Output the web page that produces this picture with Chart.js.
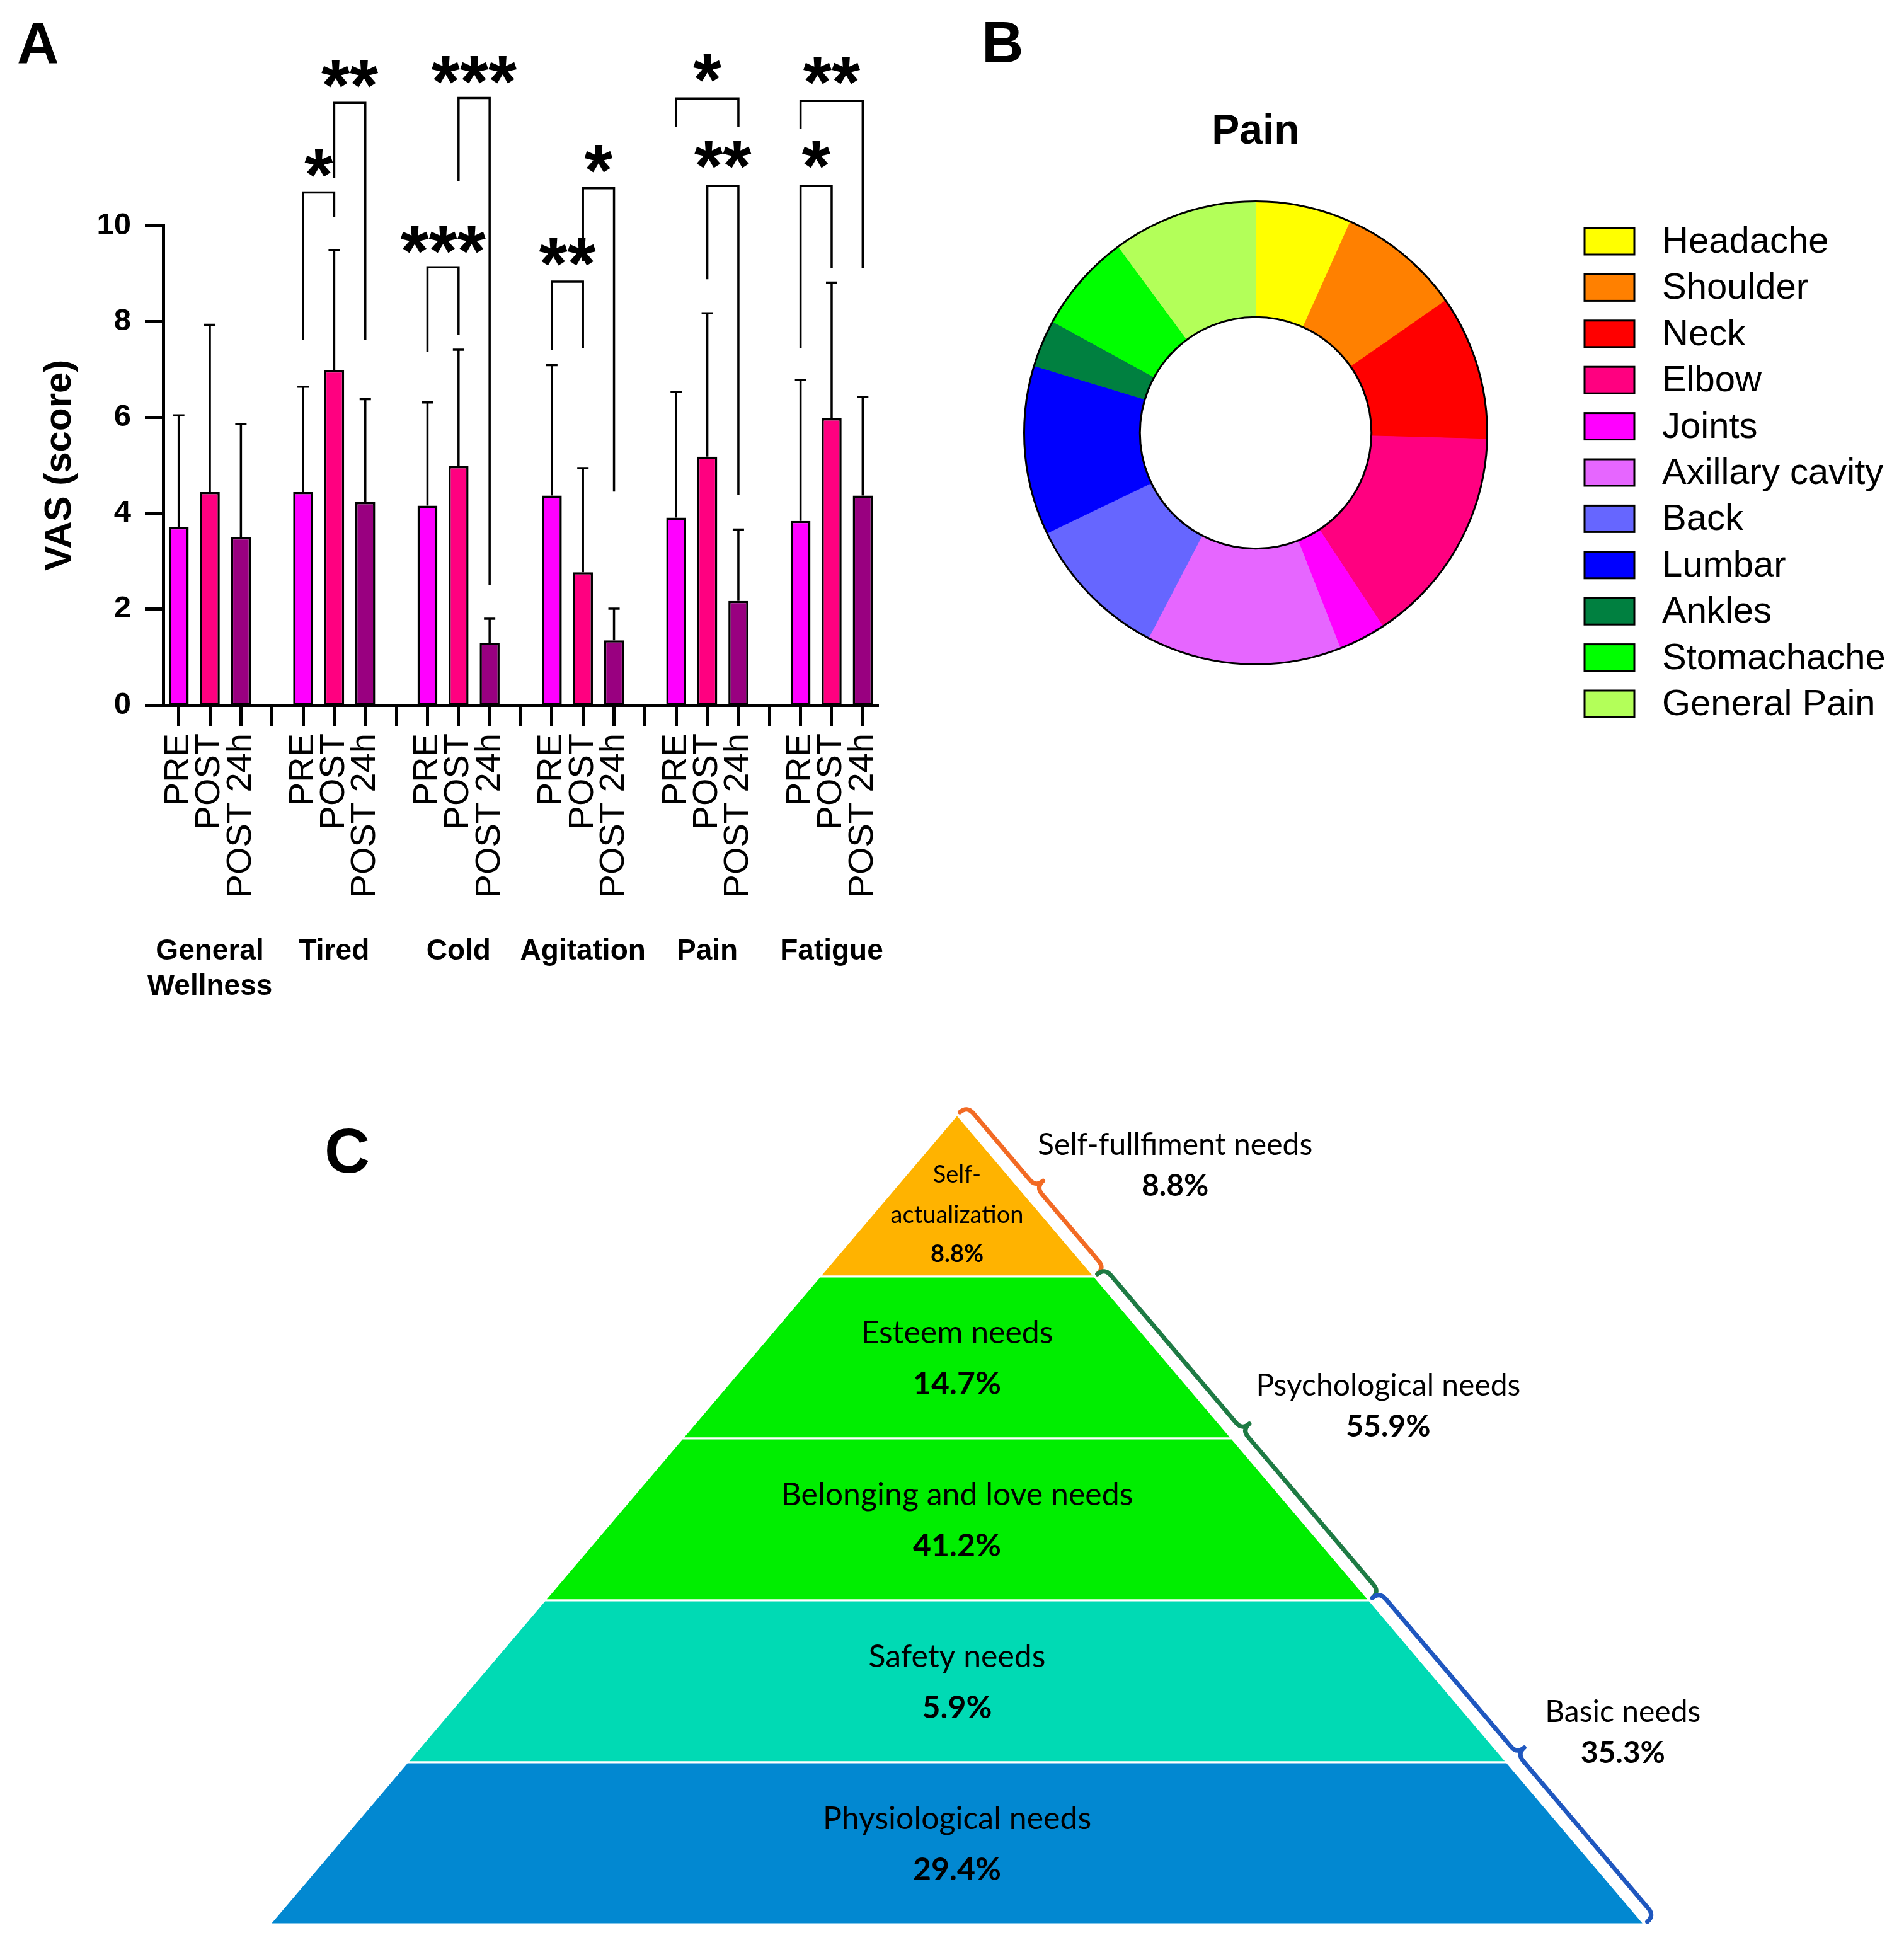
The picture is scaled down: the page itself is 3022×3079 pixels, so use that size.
<!DOCTYPE html>
<html><head><meta charset="utf-8">
<script src="https://cdn.jsdelivr.net/npm/chart.js@4.4.1/dist/chart.umd.min.js"></script>
<style>
html,body{margin:0;padding:0;background:#fff;}
body{width:3022px;height:3079px;position:relative;overflow:hidden;}
canvas{position:absolute;}
#cA{left:0;top:0;width:1500px;height:1650px;}
#cB{left:1500px;top:0;width:1522px;height:1200px;}
#cC{left:0;top:1650px;width:3022px;height:1429px;}
</style></head><body>
<canvas id="cA" width="1500" height="1650"></canvas>
<canvas id="cB" width="1522" height="1200"></canvas>
<canvas id="cC" width="3022" height="1429"></canvas>
<script>
// ---------------- DATA ----------------
// Panel A
const groups = ['General Wellness', 'Tired', 'Cold', 'Agitation', 'Pain', 'Fatigue'];
const timepoints = ['PRE', 'POST', 'POST 24h'];
const meanPre  = [3.71, 4.44, 4.16, 4.37, 3.91, 3.84];
const meanPost = [4.44, 6.98, 4.98, 2.77, 5.18, 5.98];
const mean24h  = [3.50, 4.23, 1.30, 1.35, 2.17, 4.37];
const sdPre  = [2.33, 2.20, 2.15, 2.72, 2.62, 2.94];
const sdPost = [3.49, 2.51, 2.43, 2.17, 2.99, 2.83];
const sd24h  = [2.36, 2.15, 0.50, 0.66, 1.49, 2.06];
const yTicksA = [0, 2, 4, 6, 8, 10];
// significance brackets (group, from timepoint, to timepoint, bracket top, left leg end, right leg end, label, label centre)
const sigGroup    = [1, 1, 2, 2, 3, 3, 4, 4, 5, 5];
const sigFrom     = [0, 1, 0, 1, 0, 1, 0, 1, 0, 0];
const sigTo       = [1, 2, 1, 2, 1, 2, 2, 2, 1, 2];
const sigTop      = [10.69, 12.56, 9.13, 12.66, 8.83, 10.78, 12.65, 10.83, 10.83, 12.60];
const sigLeftEnd  = [7.61, 11.00, 7.37, 10.93, 7.41, 9.25, 12.06, 8.88, 7.45, 12.02];
const sigRightEnd = [10.17, 7.61, 7.72, 2.50, 7.45, 4.45, 12.06, 4.39, 9.12, 9.12];
const sigLabel    = ['*', '**', '***', '***', '**', '*', '*', '**', '*', '**'];
const sigLabelAt  = [11.38, 13.25, 9.79, 13.32, 9.53, 11.47, 13.36, 11.56, 11.56, 13.31];

// Panel B
const painSites  = ['Headache', 'Shoulder', 'Neck', 'Elbow', 'Joints', 'Axillary cavity', 'Back', 'Lumbar', 'Ankles', 'Stomachache', 'General Pain'];
const painShare  = [6.7, 8.6, 10.1, 15.3, 3.3, 13.6, 10.2, 11.8, 3.3, 6.9, 10.1];
const painColors = ['#FFFF00', '#FF8000', '#FF0000', '#FF0080', '#FF00FF', '#E666FF', '#6666FF', '#0000FF', '#008040', '#00FF00', '#B3FF59'];

// Panel C (top to bottom)
const needLevels = ['Self-\nactualization', 'Esteem needs', 'Belonging and love needs', 'Safety needs', 'Physiological needs'];
const needShare  = [8.8, 14.7, 41.2, 5.9, 29.4];
const needColors = ['#FFB300', '#00EE00', '#00EE00', '#00DAB4', '#0288D1'];
const needGroups = ['Self-fullfiment needs', 'Psychological needs', 'Basic needs'];
const needGroupShare = [8.8, 55.9, 35.3];
const needGroupFirst = [0, 1, 3];
const needGroupLast  = [0, 2, 4];
const needGroupColors = ['#F26A24', '#1E7B44', '#1F57BF'];

// ---------------- COMMON ----------------
const SANS = '"Liberation Sans", Arial, sans-serif';
const CAL = 'Lato, "Open Sans", sans-serif';
Chart.defaults.font.family = SANS;
Chart.defaults.color = '#000';
const fmtPct = v => v.toFixed(1) + '%';

function panelLetter(letter, x, y, size) {
  return { id: 'letter' + letter, afterDraw(chart) {
    const c = chart.ctx; c.save(); c.fillStyle = '#000';
    c.font = 'bold ' + size + 'px ' + SANS; c.textAlign = 'left'; c.textBaseline = 'alphabetic';
    c.fillText(letter, x, y); c.restore();
  }};
}

// ---------------- PANEL A ----------------
const tpColors = ['#FF00FF', '#FF0080', '#990080'];
const xLabels = [], barValues = [], barErrors = [], barColors = [];
groups.forEach((g, gi) => {
  const m = [meanPre[gi], meanPost[gi], mean24h[gi]];
  const s = [sdPre[gi], sdPost[gi], sd24h[gi]];
  timepoints.forEach((t, ti) => { xLabels.push(t); barValues.push(m[ti]); barErrors.push(s[ti]); barColors.push(tpColors[ti]); });
  if (gi < groups.length - 1) { xLabels.push(''); barValues.push(null); barErrors.push(null); barColors.push('rgba(0,0,0,0)'); }
});
const slotOf = (g, t) => g * (timepoints.length + 1) + t;

const errorBars = { id: 'errorBars', afterDatasetsDraw(chart) {
  const c = chart.ctx, ys = chart.scales.y, meta = chart.getDatasetMeta(0);
  c.save(); c.strokeStyle = '#000'; c.lineWidth = 3.5; c.lineCap = 'butt';
  meta.data.forEach((bar, i) => {
    if (barValues[i] == null) return;
    const yb = ys.getPixelForValue(barValues[i]);
    const yt = ys.getPixelForValue(barValues[i] + barErrors[i]);
    c.beginPath(); c.moveTo(bar.x, yb); c.lineTo(bar.x, yt);
    c.moveTo(bar.x - 9, yt); c.lineTo(bar.x + 9, yt); c.stroke();
  });
  c.restore();
}};

const brackets = { id: 'brackets', afterDraw(chart) {
  const c = chart.ctx, xs = chart.scales.x, ys = chart.scales.y;
  const fs = 116;
  c.save(); c.strokeStyle = '#000'; c.lineWidth = 3.5; c.lineJoin = 'miter';
  c.fillStyle = '#000'; c.font = 'bold ' + fs + 'px ' + SANS; c.textAlign = 'center'; c.textBaseline = 'alphabetic';
  sigGroup.forEach((g, k) => {
    const xl = xs.getPixelForValue(slotOf(g, sigFrom[k]));
    const xr = xs.getPixelForValue(slotOf(g, sigTo[k]));
    const yt = ys.getPixelForValue(sigTop[k]);
    c.beginPath();
    c.moveTo(xl, ys.getPixelForValue(sigLeftEnd[k])); c.lineTo(xl, yt); c.lineTo(xr, yt);
    c.lineTo(xr, ys.getPixelForValue(sigRightEnd[k])); c.stroke();
    c.fillText(sigLabel[k], (xl + xr) / 2, ys.getPixelForValue(sigLabelAt[k]) + 0.56 * fs);
  });
  c.restore();
}};

const groupLabels = { id: 'groupLabels', afterDraw(chart) {
  const c = chart.ctx, xs = chart.scales.x, base = chart.chartArea.bottom + 391;
  c.save(); c.fillStyle = '#000'; c.font = 'bold 46px ' + SANS; c.textAlign = 'center'; c.textBaseline = 'middle';
  groups.forEach((g, gi) => {
    const x = xs.getPixelForValue(slotOf(gi, 1));
    g.split(' ').forEach((line, li) => c.fillText(line, x, base + li * 56));
  });
  c.restore();
}};

new Chart(document.getElementById('cA'), {
  type: 'bar',
  data: { labels: xLabels, datasets: [{ data: barValues, backgroundColor: barColors, borderColor: '#000', borderWidth: 3.5, borderSkipped: false, barPercentage: 0.64, categoryPercentage: 1 }] },
  options: {
    responsive: false, animation: false, devicePixelRatio: 1,
    layout: { padding: { left: 0, right: 106, top: 358, bottom: 0 }, autoPadding: false },
    plugins: { legend: { display: false }, tooltip: { enabled: false } },
    scales: {
      x: {
        offset: true,
        grid: { offset: false, drawOnChartArea: false, tickLength: 33, tickWidth: 5, tickColor: '#000' },
        border: { color: '#000', width: 5 },
        ticks: { minRotation: 90, maxRotation: 90, autoSkip: false, color: '#000', font: { size: 56 }, padding: 12 },
        afterFit: s => { s.height = 531; }
      },
      y: {
        min: 0, max: 10,
        afterBuildTicks: s => { s.ticks = yTicksA.map(v => ({ value: v })); },
        ticks: { color: '#000', font: { size: 49, weight: 'bold' }, padding: 22 },
        grid: { drawOnChartArea: false, tickLength: 29, tickWidth: 5, tickColor: '#000' },
        border: { color: '#000', width: 5 },
        title: { display: true, text: 'VAS (score)', color: '#000', font: { size: 60, weight: 'bold' }, padding: { top: 59, bottom: 0 } },
        afterFit: s => { s.width = 259; }
      }
    }
  },
  plugins: [errorBars, brackets, groupLabels, panelLetter('A', 27, 100, 92)]
});

// ---------------- PANEL B ----------------
const ringOutline = { id: 'ringOutline', afterDatasetsDraw(chart) {
  const arc = chart.getDatasetMeta(0).data[0]; if (!arc) return;
  const c = chart.ctx; c.save(); c.strokeStyle = '#000'; c.lineWidth = 3;
  c.beginPath(); c.arc(arc.x, arc.y, arc.outerRadius, 0, Math.PI * 2); c.stroke();
  c.beginPath(); c.arc(arc.x, arc.y, arc.innerRadius, 0, Math.PI * 2); c.stroke();
  c.restore();
}};
const painTitle = { id: 'painTitle', afterDraw(chart) {
  const arc = chart.getDatasetMeta(0).data[0]; const c = chart.ctx;
  c.save(); c.fillStyle = '#000'; c.font = 'bold 66px ' + SANS; c.textAlign = 'center'; c.textBaseline = 'alphabetic';
  c.fillText('Pain', arc.x, 228); c.restore();
}};
const painLegend = { id: 'painLegend', afterDraw(chart) {
  const c = chart.ctx; const bx = 1015, top = 362, pitch = 73.4, bw = 79, bh = 42;
  c.save(); c.font = '58px ' + SANS; c.textAlign = 'left'; c.textBaseline = 'middle';
  chart.data.labels.forEach((lab, i) => {
    const y = top + i * pitch;
    c.fillStyle = chart.data.datasets[0].backgroundColor[i]; c.fillRect(bx, y, bw, bh);
    c.strokeStyle = '#000'; c.lineWidth = 3; c.strokeRect(bx, y, bw, bh);
    c.fillStyle = '#000'; c.fillText(lab, bx + 123, y + bh / 2 + 2);
  });
  c.restore();
}};
new Chart(document.getElementById('cB'), {
  type: 'doughnut',
  data: { labels: painSites, datasets: [{ data: painShare, backgroundColor: painColors, borderColor: painColors, borderWidth: 1, hoverOffset: 0 }] },
  options: {
    responsive: false, animation: false, devicePixelRatio: 1, cutout: '50%',
    layout: { padding: { left: 125, top: 319, right: 661, bottom: 145 } },
    plugins: { legend: { display: false }, tooltip: { enabled: false } }
  },
  plugins: [ringOutline, painTitle, painLegend, panelLetter('B', 58, 99, 92)]
});

// ---------------- PANEL C ----------------
const nLev = needLevels.length;
const halfW = y => 1 - y / nLev;
const levelDatasets = needLevels.map((name, t) => {
  const yb = nLev - 1 - t, yt = nLev - t;
  return { label: name, data: [{ x: -halfW(yb), y: yb }, { x: halfW(yb), y: yb }, { x: halfW(yt), y: yt }, { x: -halfW(yt), y: yt }],
           pointRadius: 0, showLine: false, backgroundColor: needColors[t] };
});
const pyramidFill = { id: 'pyramidFill', beforeDatasetsDraw(chart) {
  const c = chart.ctx; c.save();
  chart.data.datasets.forEach((ds, i) => {
    const pts = chart.getDatasetMeta(i).data;
    c.beginPath(); pts.forEach((p, j) => j ? c.lineTo(p.x, p.y) : c.moveTo(p.x, p.y)); c.closePath();
    c.fillStyle = ds.backgroundColor; c.fill();
    c.strokeStyle = '#fff'; c.lineWidth = 3; c.stroke();
  });
  c.restore();
}};
function drawBrace(c, ax, ay, bx, by, r) {
  const dx = bx - ax, dy = by - ay, L = Math.hypot(dx, dy), tx = dx / L, ty = dy / L, nx = ty, ny = -tx;
  const P = (s, h) => [ax + tx * s + nx * h, ay + ty * s + ny * h];
  const m = L / 2;
  c.beginPath();
  c.moveTo(...P(0, 0));
  c.quadraticCurveTo(...P(0, r), ...P(r, r));
  c.lineTo(...P(m - r, r));
  c.quadraticCurveTo(...P(m, r), ...P(m, 2 * r));
  c.quadraticCurveTo(...P(m, r), ...P(m + r, r));
  c.lineTo(...P(L - r, r));
  c.quadraticCurveTo(...P(L, r), ...P(L, 0));
  c.stroke();
}
const pyramidText = { id: 'pyramidText', afterDraw(chart) {
  const c = chart.ctx, xs = chart.scales.x, ys = chart.scales.y;
  const cx = xs.getPixelForValue(0);
  c.save(); c.fillStyle = '#000'; c.textAlign = 'center'; c.textBaseline = 'middle';
  needLevels.forEach((name, t) => {
    const cy = ys.getPixelForValue(nLev - t - 0.5);
    const lines = name.split('\n');
    if (lines.length > 1) {
      c.font = '38px ' + CAL; c.fillText(lines[0], cx, cy - 33); c.fillText(lines[1], cx, cy + 31);
      c.font = 'bold 38px ' + CAL; c.fillText(fmtPct(needShare[t]), cx, cy + 93);
    } else {
      c.font = '50px ' + CAL; c.fillText(name, cx, cy - 39);
      c.font = 'bold 50px ' + CAL; c.fillText(fmtPct(needShare[t]), cx, cy + 42);
    }
  });
  // braces along the right edge
  const edge = (y, off) => {
    const x0 = xs.getPixelForValue(halfW(y)), y0 = ys.getPixelForValue(y);
    const ex = xs.getPixelForValue(1) - xs.getPixelForValue(0), ey = ys.getPixelForValue(0) - ys.getPixelForValue(nLev);
    const L = Math.hypot(ex, ey);
    return [x0 + (ey / L) * off, y0 - (ex / L) * off];
  };
  const labelOff = [[237, -80], [248, -83], [184, -79]];
  needGroups.forEach((g, k) => {
    const yTop = nLev - needGroupFirst[k], yBot = nLev - 1 - needGroupLast[k];
    const a = edge(yTop, 6), b = edge(yBot, 6);
    c.strokeStyle = needGroupColors[k]; c.lineWidth = 7; c.lineJoin = 'round'; c.lineCap = 'round';
    drawBrace(c, a[0], a[1], b[0], b[1], 15);
    const mid = edge((yTop + yBot) / 2, 0);
    const lx = mid[0] + labelOff[k][0], ly = mid[1] + labelOff[k][1];
    c.fillStyle = '#000';
    c.font = '48px ' + CAL; c.fillText(g, lx, ly);
    c.font = 'bold 48px ' + CAL; c.fillText(fmtPct(needGroupShare[k]), lx, ly + 65);
  });
  c.restore();
}};
new Chart(document.getElementById('cC'), {
  type: 'scatter',
  data: { datasets: levelDatasets },
  options: {
    responsive: false, animation: false, devicePixelRatio: 1,
    layout: { padding: { left: 428, right: 412, top: 119, bottom: 25 }, autoPadding: false },
    plugins: { legend: { display: false }, tooltip: { enabled: false } },
    scales: { x: { type: 'linear', min: -1, max: 1, display: false }, y: { type: 'linear', min: 0, max: nLev, display: false } }
  },
  plugins: [pyramidFill, pyramidText, panelLetter('C', 515, 211, 100)]
});
</script>
</body></html>
